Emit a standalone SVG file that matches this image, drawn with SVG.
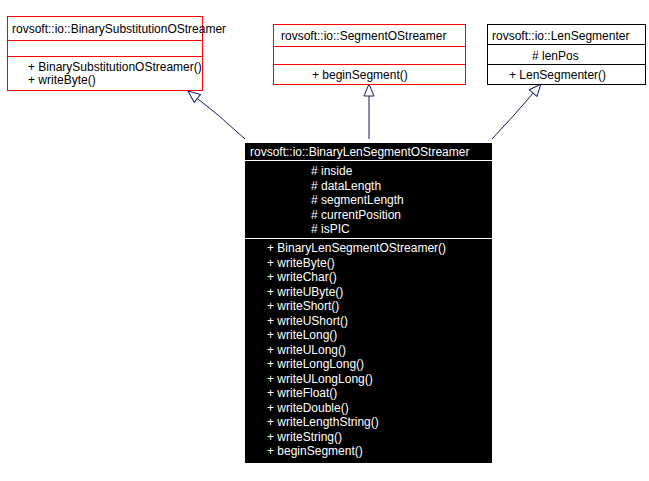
<svg xmlns="http://www.w3.org/2000/svg" width="649" height="481" viewBox="0 0 649 481">
<style>
text{font-family:"Liberation Sans",Arial,sans-serif;font-size:12px}
.r{fill:#fff;stroke:#f00;stroke-width:1}
.k{fill:#fff;stroke:#000;stroke-width:1}
.w{fill:#fff}
.e{stroke:#191970;stroke-width:1;fill:none}
</style>
<defs><marker id="a" markerWidth="14" markerHeight="12" refX="13" refY="6" orient="auto" markerUnits="userSpaceOnUse"><path d="M1,1 L13,6 L1,11 Z" fill="#fff" stroke="#191970"/></marker></defs>
<rect width="649" height="481" fill="#fff"/>
<g id="edges">
<path class="e" d="M245,139 L218,115 L188,91" marker-end="url(#a)"/>
<path class="e" d="M369,139 L369,84" marker-end="url(#a)"/>
<path class="e" d="M492,139 L515,114 L541,84" marker-end="url(#a)"/>
</g>
<g id="n1">
<rect class="r" x="7.5" y="16.5" width="195" height="74"/>
<path d="M7.5,40.5H202.5M7.5,56.5H202.5" stroke="#f00"/>
<text x="12" y="33">rovsoft::io::BinarySubstitutionOStreamer</text>
<text x="28" y="71">+ BinarySubstitutionOStreamer()</text>
<text x="28" y="84">+ writeByte()</text>
</g>
<g id="n2">
<rect class="r" x="273.5" y="24.5" width="192" height="60"/>
<path d="M273.5,46.5H465.5M273.5,64.5H465.5" stroke="#f00"/>
<text x="281" y="40">rovsoft::io::SegmentOStreamer</text>
<text x="312" y="79">+ beginSegment()</text>
</g>
<g id="n3">
<rect class="k" x="487.5" y="24.5" width="158" height="60"/>
<path d="M487.5,44.5H645.5M487.5,64.5H645.5" stroke="#000"/>
<text x="492" y="40">rovsoft::io::LenSegmenter</text>
<text x="532" y="60"># lenPos</text>
<text x="509" y="79">+ LenSegmenter()</text>
</g>
<g id="n4">
<rect x="245" y="143" width="247" height="320" fill="#000"/>
<path d="M245,160.5H492M245,238.5H492" stroke="#fff"/>
<text class="w" x="250" y="156">rovsoft::io::BinaryLenSegmentOStreamer</text>
<text class="w" x="311" y="175"># inside</text>
<text class="w" x="311" y="189.5"># dataLength</text>
<text class="w" x="311" y="204"># segmentLength</text>
<text class="w" x="311" y="218.5"># currentPosition</text>
<text class="w" x="311" y="233"># isPIC</text>
<g class="w">
<text class="w" x="267" y="252">+ BinaryLenSegmentOStreamer()</text>
<text class="w" x="267" y="266.5">+ writeByte()</text>
<text class="w" x="267" y="281">+ writeChar()</text>
<text class="w" x="267" y="295.5">+ writeUByte()</text>
<text class="w" x="267" y="310">+ writeShort()</text>
<text class="w" x="267" y="324.5">+ writeUShort()</text>
<text class="w" x="267" y="339">+ writeLong()</text>
<text class="w" x="267" y="353.5">+ writeULong()</text>
<text class="w" x="267" y="368">+ writeLongLong()</text>
<text class="w" x="267" y="382.5">+ writeULongLong()</text>
<text class="w" x="267" y="397">+ writeFloat()</text>
<text class="w" x="267" y="411.5">+ writeDouble()</text>
<text class="w" x="267" y="426">+ writeLengthString()</text>
<text class="w" x="267" y="440.5">+ writeString()</text>
<text class="w" x="267" y="455">+ beginSegment()</text>
</g>
</g>
</svg>
